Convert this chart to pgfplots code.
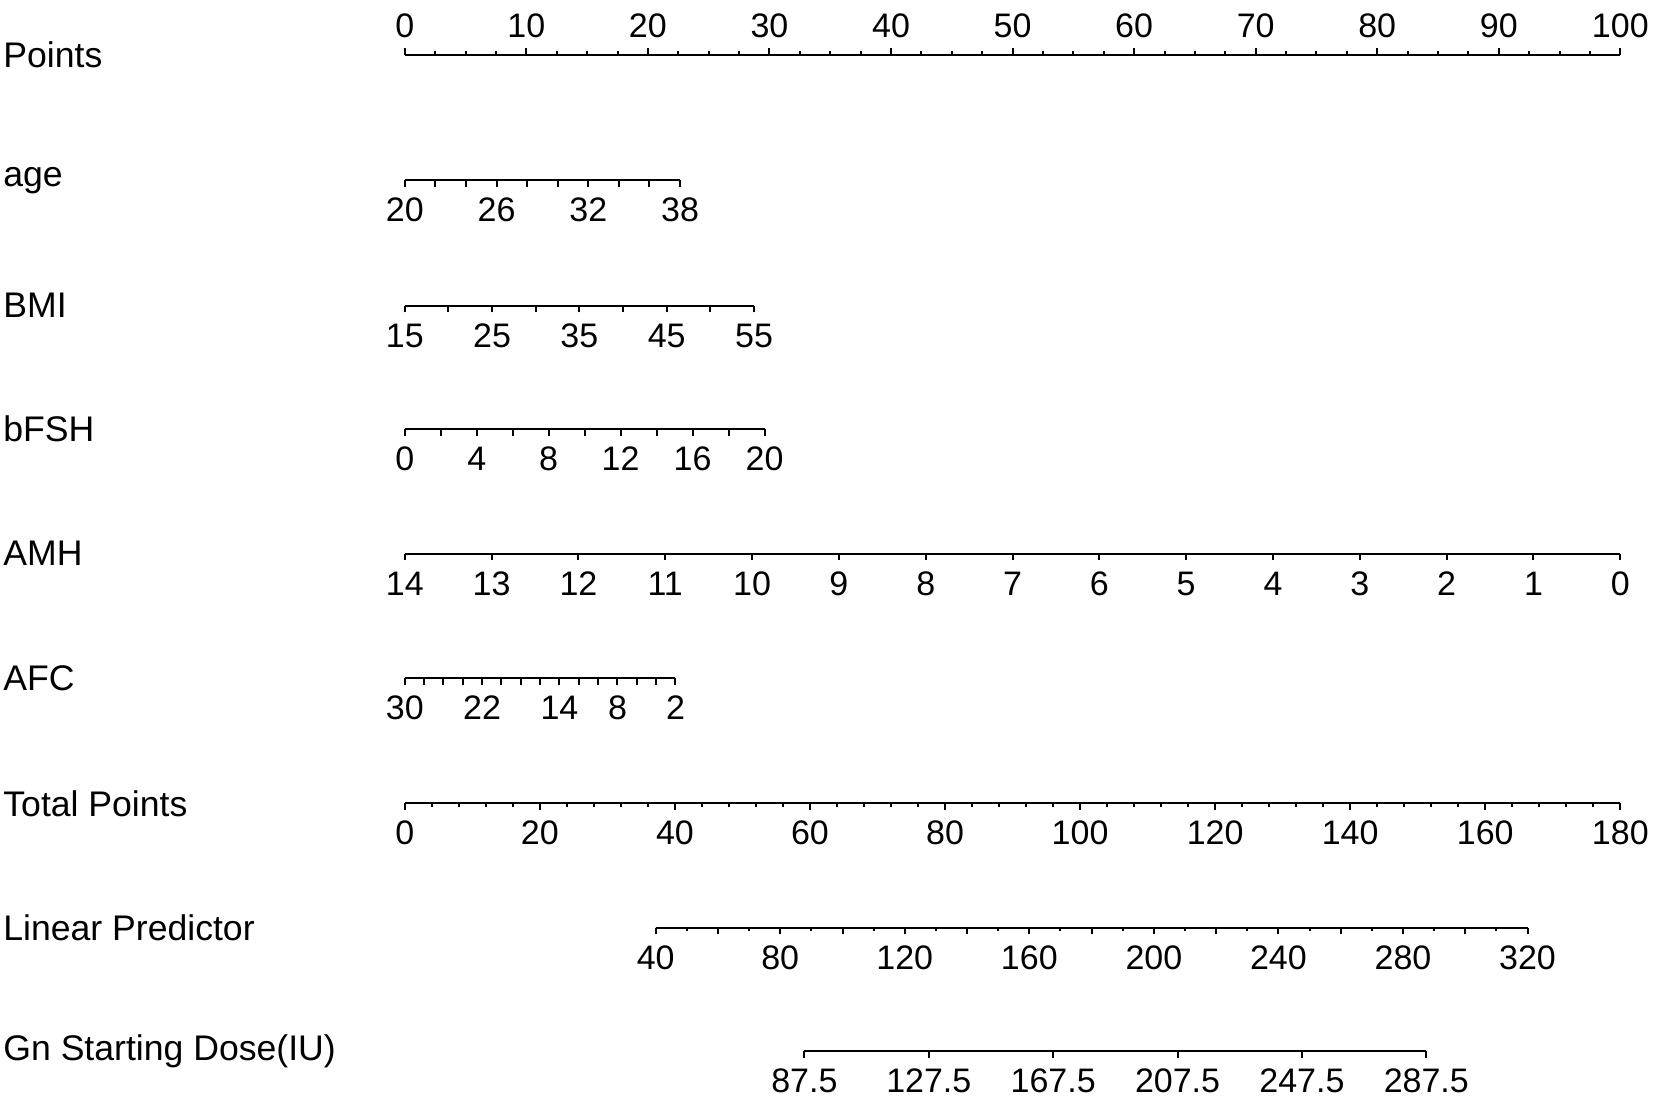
\documentclass[border=0pt]{standalone}
\usepackage{fontspec}
\setmainfont{Liberation Sans}
\usepackage{pgfplots}
\pgfplotsset{compat=1.18}

% one scale of the nomogram = one thin axis, y hidden
\pgfplotsset{
  nomobase/.style={
    scale only axis, height=4pt, ymin=0, ymax=1,
    hide y axis, clip=false,
    x axis line style={-, line width=1pt},
    xtick align=outside,
    major tick length=3.3pt, minor tick length=3.3pt,
    every tick/.style={black, line width=1pt},
    tick label style={font=\fontsize{17}{17}\selectfont},
    /pgf/number format/assume math mode=true,
  },
  nomo/.style={nomobase, axis x line*=bottom, anchor=south west,
    xticklabel style={anchor=base, yshift=-17.45pt}},
  nomotop/.style={nomobase, axis x line*=top, anchor=north west,
    xticklabel style={anchor=base, yshift=5.45pt}},
}
\tikzset{rowlabel/.style={anchor=west, inner sep=0pt, font=\fontsize{17.8}{17.8}\selectfont}}

\begin{document}
\begin{tikzpicture}
\useasboundingbox (0,0) rectangle (826.5pt,-553pt);

% Points
\begin{axis}[nomotop, at={(202.4pt,-27.4pt)}, width=607.75pt,
  xmin=0, xmax=100, xtick={0,10,...,100}, minor xtick={0,2.5,...,100},
  minor tick length=1.75pt]
\addplot[black, line width=1pt] coordinates {(0,1) (100,1)};
\end{axis}

% age
\begin{axis}[nomo, at={(202.4pt,-90.15pt)}, width=137.6pt,
  xmin=20, xmax=38, xtick={20,26,32,38}, minor xtick={20,22,...,38}]
\addplot[black, line width=1pt] coordinates {(20,0) (38,0)};
\end{axis}

% BMI
\begin{axis}[nomo, at={(202.4pt,-152.85pt)}, width=174.6pt,
  xmin=15, xmax=55, xtick={15,25,35,45,55}, minor xtick={15,20,...,55}]
\addplot[black, line width=1pt] coordinates {(15,0) (55,0)};
\end{axis}

% bFSH
\begin{axis}[nomo, at={(202.4pt,-214.55pt)}, width=179.85pt,
  xmin=0, xmax=20, xtick={0,4,...,20}, minor xtick={0,2,...,20}]
\addplot[black, line width=1pt] coordinates {(0,0) (20,0)};
\end{axis}

% AMH (reversed)
\begin{axis}[nomo, at={(202.4pt,-276.75pt)}, width=607.75pt, x dir=reverse,
  xmin=0, xmax=14, xtick={0,1,...,14}]
\addplot[black, line width=1pt] coordinates {(0,0) (14,0)};
\end{axis}

% AFC (reversed)
\begin{axis}[nomo, at={(202.4pt,-338.95pt)}, width=135.35pt, x dir=reverse,
  xmin=2, xmax=30, xtick={30,22,14,8,2}, minor xtick={2,4,...,30}]
\addplot[black, line width=1pt] coordinates {(2,0) (30,0)};
\end{axis}

% Total Points
\begin{axis}[nomo, at={(202.4pt,-401.65pt)}, width=607.75pt,
  xmin=0, xmax=180, xtick={0,20,...,180}, minor xtick={0,4,...,180},
  minor tick length=1.75pt]
\addplot[black, line width=1pt] coordinates {(0,0) (180,0)};
\end{axis}

% Linear Predictor
\begin{axis}[nomo, at={(327.85pt,-463.85pt)}, width=435.9pt,
  xmin=40, xmax=320, xtick={40,60,...,320},
  xticklabels={40,,80,,120,,160,,200,,240,,280,,320},
  minor xtick={40,50,...,320}, minor tick length=1.75pt]
\addplot[black, line width=1pt] coordinates {(40,0) (320,0)};
\end{axis}

% Gn Starting Dose
\begin{axis}[nomo, at={(402.2pt,-525.5pt)}, width=310.95pt,
  xmin=87.5, xmax=287.5, xtick={87.5,127.5,167.5,207.5,247.5,287.5},
  xticklabels={87.5,127.5,167.5,207.5,247.5,287.5}]
\addplot[black, line width=1pt] coordinates {(87.5,0) (287.5,0)};
\end{axis}

\node[rowlabel] at (1.5pt,-27.4pt) {Points};
\node[rowlabel] at (1.5pt,-90.15pt) {age};
\node[rowlabel] at (1.5pt,-152.85pt) {BMI};
\node[rowlabel] at (1.5pt,-214.55pt) {bFSH};
\node[rowlabel] at (1.5pt,-276.75pt) {AMH};
\node[rowlabel] at (1.5pt,-338.95pt) {AFC};
\node[rowlabel] at (1.5pt,-401.65pt) {Total Points};
\node[rowlabel] at (1.5pt,-463.85pt) {Linear Predictor};
\node[rowlabel] at (1.5pt,-525.5pt) {Gn Starting Dose(IU)};
\end{tikzpicture}
\end{document}
